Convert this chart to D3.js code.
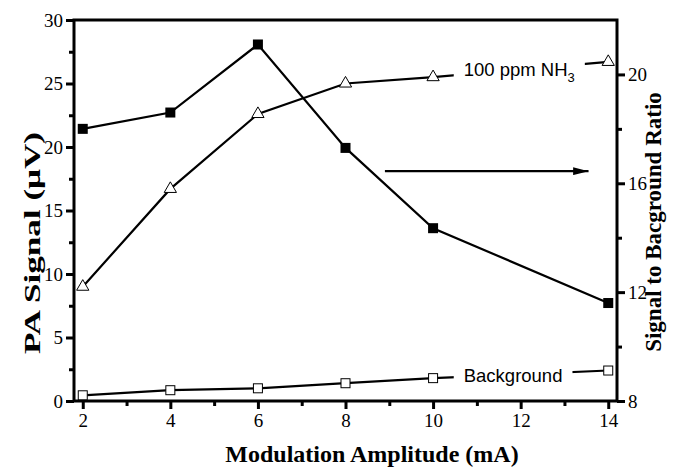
<!DOCTYPE html>
<html>
<head>
<meta charset="utf-8">
<script src="https://cdn.jsdelivr.net/npm/d3@7"></script>
<style>
  body { margin: 0; background: #fff; }
  svg { display: block; }
  .tick text { font-family: "Liberation Serif", "Times New Roman", serif; font-size: 19px; fill: #000; }
  .title { font-family: "Liberation Serif", "Times New Roman", serif; font-weight: bold; font-size: 23px; }
  .lbl { font-family: "Liberation Sans", Arial, sans-serif; font-size: 18.5px; }
</style>
</head>
<body>
<script>
// data
var amplitude = [2, 4, 6, 8, 10, 14];
var nh3Signal = [9.0, 16.7, 22.6, 25.0, 25.5, 26.7];     // left axis, uV
var background = [0.45, 0.85, 1.0, 1.4, 1.8, 2.4];        // left axis, uV
var ratio = [18.0, 18.6, 21.1, 17.3, 14.35, 11.6];        // right axis
var xTicks = [2, 4, 6, 8, 10, 12, 14];
var leftTicks = [0, 5, 10, 15, 20, 25, 30];
var rightTicks = [8, 12, 16, 20];

var W = 679, H = 467;
var pL = 74, pR = 617, pT = 20, pB = 401;

var svg = d3.select("body").append("svg")
  .attr("width", W).attr("height", H);

var x = d3.scaleLinear().domain([1.8, 14.2]).range([pL, pR]);
var yL = d3.scaleLinear().domain([0, 30]).range([pB, pT]);
var yR = d3.scaleLinear().domain([8, 22]).range([pB, pT]);

// axes
function styleAxis(g) {
  g.select(".domain").remove();
  g.selectAll(".tick line").attr("stroke", "#000").attr("stroke-width", 3);
}

svg.append("g")
  .attr("transform", "translate(0," + pB + ")")
  .call(d3.axisBottom(x).tickValues(d3.range(3, 14, 2)).tickSize(5).tickFormat(""))
  .call(styleAxis);
svg.append("g")
  .attr("transform", "translate(0," + pB + ")")
  .call(d3.axisBottom(x).tickValues(xTicks).tickSize(8).tickPadding(5).tickFormat(d3.format("d")))
  .call(styleAxis);

svg.append("g")
  .attr("transform", "translate(" + pL + ",0)")
  .call(d3.axisLeft(yL).tickValues(d3.range(2.5, 30, 5)).tickSize(5).tickFormat(""))
  .call(styleAxis);
svg.append("g")
  .attr("transform", "translate(" + pL + ",0)")
  .call(d3.axisLeft(yL).tickValues(leftTicks).tickSize(8).tickPadding(3).tickFormat(d3.format("d")))
  .call(styleAxis);

svg.append("g")
  .attr("transform", "translate(" + pR + ",0)")
  .call(d3.axisRight(yR).tickValues([10, 14, 18]).tickSize(5).tickFormat(""))
  .call(styleAxis);
svg.append("g")
  .attr("transform", "translate(" + pR + ",0)")
  .call(d3.axisRight(yR).tickValues(rightTicks).tickSize(8).tickPadding(3).tickFormat(d3.format("d")))
  .call(styleAxis);

// frame
svg.append("rect")
  .attr("x", pL).attr("y", pT)
  .attr("width", pR - pL).attr("height", pB - pT)
  .attr("fill", "none").attr("stroke", "#000").attr("stroke-width", 3);

// lines
function drawLine(vals, yScale) {
  var line = d3.line()
    .x(function(d, i) { return x(amplitude[i]); })
    .y(function(d) { return yScale(d); });
  svg.append("path")
    .datum(vals)
    .attr("d", line)
    .attr("fill", "none")
    .attr("stroke", "#000")
    .attr("stroke-width", 2.2);
}
drawLine(nh3Signal, yL);
drawLine(background, yL);
drawLine(ratio, yR);

// labels on lines (white box cuts the line)
function lineLabel(xv, yv, txt, sub) {
  var t = svg.append("text").attr("class", "lbl")
    .attr("x", x(xv)).attr("y", yL(yv)).attr("dy", "0.35em");
  t.append("tspan").text(txt);
  if (sub) t.append("tspan").attr("dy", 6).attr("font-size", 13).text(sub);
  var bb = t.node().getBBox();
  svg.insert("rect", "text.lbl")
    .attr("x", bb.x - 10).attr("y", bb.y)
    .attr("width", bb.width + 20).attr("height", bb.height)
    .attr("fill", "#fff");
}
lineLabel(10.7, 26.1, "100 ppm NH", "3");
lineLabel(10.7, 2.0, "Background");

// markers
svg.selectAll("rect.bg").data(background).enter().append("rect")
  .attr("class", "bg")
  .attr("x", function(d, i) { return x(amplitude[i]) - 4.5; })
  .attr("y", function(d) { return yL(d) - 4.5; })
  .attr("width", 9).attr("height", 9)
  .attr("fill", "#fff").attr("stroke", "#000").attr("stroke-width", 1);

svg.selectAll("rect.rt").data(ratio).enter().append("rect")
  .attr("class", "rt")
  .attr("x", function(d, i) { return x(amplitude[i]) - 5; })
  .attr("y", function(d) { return yR(d) - 5; })
  .attr("width", 10).attr("height", 10)
  .attr("fill", "#000");

var tri = d3.symbol().type(d3.symbolTriangle).size(65);
svg.selectAll("path.nh").data(nh3Signal).enter().append("path")
  .attr("class", "nh")
  .attr("d", tri)
  .attr("transform", function(d, i) { return "translate(" + x(amplitude[i]) + "," + yL(d) + ")"; })
  .attr("fill", "#fff").attr("stroke", "#000").attr("stroke-width", 1);

// arrow pointing to the right axis
svg.append("defs").append("marker")
  .attr("id", "head")
  .attr("viewBox", "0 0 10 10").attr("refX", 10).attr("refY", 5)
  .attr("markerWidth", 7).attr("markerHeight", 3.6)
  .attr("markerUnits", "strokeWidth")
  .attr("orient", "auto")
  .attr("preserveAspectRatio", "none")
  .append("path").attr("d", "M0,0L10,5L0,10z").attr("fill", "#000");
svg.append("line")
  .attr("x1", x(8.9)).attr("x2", x(13.55))
  .attr("y1", yL(18.1)).attr("y2", yL(18.1))
  .attr("stroke", "#000").attr("stroke-width", 2.2)
  .attr("marker-end", "url(#head)");

// titles
svg.append("text").attr("class", "title")
  .attr("x", 372).attr("y", 462)
  .attr("text-anchor", "middle")
  .style("font-size", "24px")
  .text("Modulation Amplitude (mA)");
svg.append("text").attr("class", "title")
  .attr("transform", "translate(40," + 243 + ") rotate(-90)")
  .attr("text-anchor", "middle")
  .attr("textLength", 222)
  .attr("lengthAdjust", "spacingAndGlyphs")
  .text("PA Signal (\u03bcV)");
svg.append("text").attr("class", "title")
  .attr("transform", "translate(661," + 222 + ") rotate(-90)")
  .attr("text-anchor", "middle")
  .text("Signal to Bacground Ratio");
</script>
</body>
</html>
